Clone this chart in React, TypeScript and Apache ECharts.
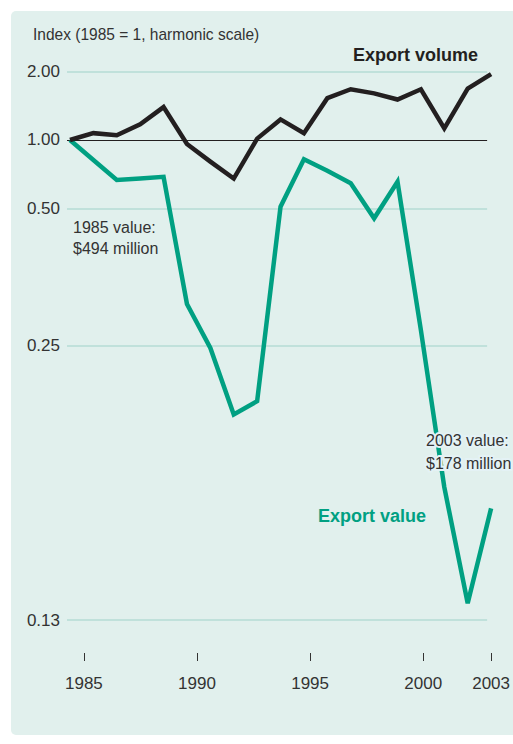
import React, { useEffect, useRef } from "react";
import * as echarts from "echarts";

const years = [1985, 1986, 1987, 1988, 1989, 1990, 1991, 1992, 1993, 1994, 1995, 1996, 1997, 1998, 1999, 2000, 2001, 2002, 2003];
const exportVolume = [1.0, 1.1, 1.07, 1.23, 1.48, 0.945, 0.76, 0.64, 1.02, 1.3, 1.1, 1.61, 1.74, 1.68, 1.59, 1.74, 1.17, 1.75, 1.96];
const exportValue = [1.0, 0.775, 0.632, 0.64, 0.651, 0.295, 0.248, 0.2, 0.208, 0.507, 0.78, 0.69, 0.613, 0.467, 0.622, 0.265, 0.165, 0.129, 0.157];
const yTickValues = [2, 1, 0.5, 0.25, 0.125];
const yTickLabels = ["2.00", "1.00", "0.50", "0.25", "0.13"];
const xTickYears = [1985, 1990, 1995, 2000, 2003];

// harmonic transform: above 1 linear, below 1 reciprocal
const h = (v: number) => (v >= 1 ? v - 1 : 1 - 1 / v);

const BG = "#e1f0ed";
const GREEN = "#00a082";
const BLACK = "#231f20";
const GRID = "#b5ddd5";
const TXT = "#333333";
const FONT = "'Liberation Sans', Arial, sans-serif";

export default function App() {
  const ref = useRef<HTMLDivElement>(null);
  useEffect(() => {
    if (!ref.current) return;
    const chart = echarts.init(ref.current, null, { renderer: "svg", width: 513, height: 744 });
    const xMinData = 1984.8727;
    const xGridEnd = 2002.83;
    const tickT = yTickValues.map(h);
    const gridLines = tickT.map((t) => [
      {
        coord: [xMinData, t],
        lineStyle: { color: t === 0 ? BLACK : GRID, width: t === 0 ? 1 : 1.5, type: "solid" },
      },
      { coord: [xGridEnd, t] },
    ]);
    const labelMap: Record<string, string> = {};
    tickT.forEach((t, i) => (labelMap[String(t)] = yTickLabels[i]));

    chart.setOption({
      animation: false,
      backgroundColor: "#ffffff",
      graphic: [
        {
          type: "rect",
          z: -100,
          shape: { x: 11, y: 11, width: 510, height: 724, r: 5 },
          style: { fill: BG },
        },
        {
          type: "text",
          x: 33,
          y: 34,
          scaleX: 0.97,
          style: { text: "Index (1985 = 1, harmonic scale)", font: `16px ${FONT}`, fill: TXT, textVerticalAlign: "middle" },
        },
        {
          type: "text",
          x: 478,
          y: 55,
          style: { text: "Export volume", font: `bold 18px ${FONT}`, fill: BLACK, textAlign: "right", textVerticalAlign: "middle" },
        },
        {
          type: "text",
          x: 318,
          y: 516,
          style: { text: "Export value", font: `bold 18px ${FONT}`, fill: GREEN, textVerticalAlign: "middle" },
        },
        {
          type: "text",
          x: 73,
          y: 217,
          style: { text: "1985 value:\n$494 million", font: `16px ${FONT}`, fill: TXT, lineHeight: 21 },
        },
        {
          type: "text",
          x: 426,
          y: 429,
          z: 100,
          style: {
            text: "2003 value:\n$178 million",
            font: `16px ${FONT}`,
            fill: TXT,
            lineHeight: 23,
            stroke: "#e4f2f5",
            lineWidth: 4,
          },
        },
      ],
      grid: { left: 67, right: 19, top: 40, bottom: 91 },
      xAxis: [
        { type: "value", min: xMinData, max: 2003, show: false },
        {
          type: "value",
          min: 1984.2537,
          max: 2003,
          position: "bottom",
          axisLine: { show: false },
          splitLine: { show: false },
          axisTick: { show: true, customValues: xTickYears, length: 8, lineStyle: { color: TXT, width: 1 } },
          axisLabel: { customValues: xTickYears, margin: 22, fontSize: 17, fontFamily: FONT, color: TXT, formatter: (v: number) => String(v) },
        },
      ],
      yAxis: {
        type: "value",
        min: -7.4781,
        max: 1.4577,
        axisLine: { show: false },
        axisTick: { show: false },
        splitLine: { show: false },
        axisLabel: {
          customValues: tickT,
          margin: 7,
          fontSize: 17,
          fontFamily: FONT,
          color: TXT,
          formatter: (v: number) => labelMap[String(v)] ?? "",
        },
      },
      series: [
        {
          type: "line",
          xAxisIndex: 0,
          data: years.map((y, i) => [y, h(exportValue[i])]),
          symbol: "none",
          clip: false,
          z: 3,
          lineStyle: { color: GREEN, width: 4.5, join: "miter" },
          markLine: {
            silent: true,
            symbol: "none",
            label: { show: false },
            z: 1,
            data: gridLines,
          },
        },
        {
          type: "line",
          xAxisIndex: 0,
          data: years.map((y, i) => [y, h(exportVolume[i])]),
          symbol: "none",
          clip: false,
          z: 4,
          lineStyle: { color: BLACK, width: 4.5, join: "miter" },
        },
      ],
    });
    return () => chart.dispose();
  }, []);
  return <div ref={ref} style={{ position: "fixed", left: 0, top: 0, width: 513, height: 744 }} />;
}
